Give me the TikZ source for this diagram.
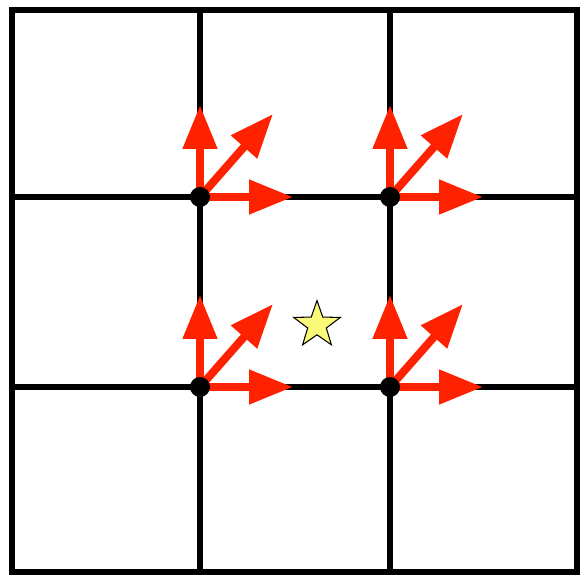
\documentclass[tikz,border=0pt]{standalone}
\usetikzlibrary{arrows.meta,backgrounds,shapes.geometric}
\definecolor{vecred}{HTML}{FF2200}
\definecolor{staryellow}{HTML}{FAFA78}
\tikzset{
  gridline/.style={line width=3.4pt,color=black},
  lattice/.style={circle,fill=black,inner sep=0pt,minimum size=0.4cm},
  vec/.style={-{Triangle[length=0.88cm,width=0.66cm]},line width=0.16cm,color=vecred},
  probe/.style={star,star points=5,star point ratio=2.5,draw=black,fill=staryellow,inner sep=0pt,minimum size=0.98cm,line width=0.6pt},
}
\begin{document}
\begin{tikzpicture}[x=0.02cm,y=-0.02cm]
  \useasboundingbox (0,0) rectangle (584,574);
  % lattice points
  \foreach \i/\x/\y in {a/200/197,b/390/197,c/200/387,d/390/387}
    \node[lattice] (\i) at (\x,\y) {};
  \node[probe] (s) at (317,325) {};
  \begin{scope}[on background layer]
    \draw[gridline] (12,10) rectangle (577,572);
    \foreach \x in {200,390} \draw[gridline] (\x,10) -- (\x,572);
    \foreach \y in {197,387} \draw[gridline] (12,\y) -- (577,\y);
    % gradient vectors at each corner
    \foreach \i in {a,b,c,d} {
      \path (\i.center) +(0,-92) coordinate (\i n) +(93,0) coordinate (\i e) +(73,-83) coordinate (\i ne);
      \draw[vec] (\i.center) -- (\i n);
      \draw[vec] (\i.center) -- (\i e);
      \draw[vec] (\i.center) -- (\i ne);
    }
  \end{scope}
\end{tikzpicture}
\end{document}
